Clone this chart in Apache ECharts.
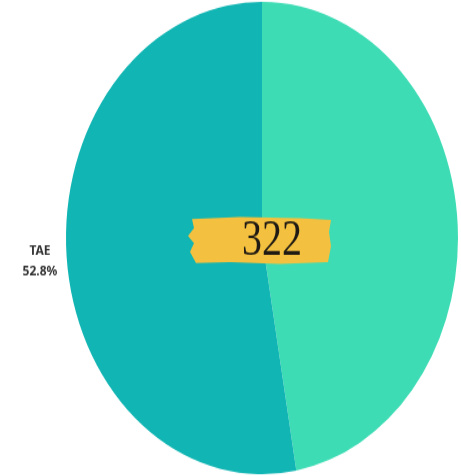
<!DOCTYPE html>
<html>
<head>
<meta charset="utf-8">
<script src="https://cdn.jsdelivr.net/npm/echarts@6/dist/echarts.min.js"></script>
<style>
  html, body { margin: 0; padding: 0; background: #fff; overflow: hidden; }
  #wrap { width: 461px; height: 476px; position: relative; overflow: hidden; }
  /* the pie in the picture is stretched into an ellipse */
  #main { width: 461px; height: 476px; transform-origin: 0 238px; transform: scaleY(1.205); }
</style>
</head>
<body>
<div id="wrap"><div id="main"></div></div>
<script>
const names = ['Other', 'TAE']
const values = [47.2, 52.8]
const colors = ['#3edcb5', '#11b5b3']
const centerNumber = '322'

const k = 1.205
// screen y -> chart y (inverse of the css stretch around y=238)
const cy = y => 238 + (y - 238) / k

const total = values.reduce((a, b) => a + b, 0)
const taePct = (values[1] / total * 100).toFixed(1) + '%'

const chart = echarts.init(document.getElementById('main'))
const option = {
  animation: false,
  color: colors,
  series: [
    {
      type: 'pie',
      center: [262, 238],
      radius: [0, 196],
      startAngle: 90,
      clockwise: true,
      label: { show: false },
      labelLine: { show: false },
      itemStyle: { borderWidth: 0 },
      data: names.map((n, i) => ({ name: n, value: values[i] }))
    }
  ],
  graphic: [
    {
      type: 'polygon',
      z: 100,
      shape: {
        points: [
          [192, cy(219)], [240, cy(217)], [300, cy(218)], [331, cy(220)],
          [329, cy(232)], [331, cy(246)], [328, cy(262)], [280, cy(264)],
          [230, cy(262)], [196, cy(263)], [190, cy(252)], [194, cy(243)],
          [188, cy(236)], [194, cy(228)]
        ]
      },
      style: { fill: '#f3c13f' }
    },
    {
      type: 'text',
      z: 101,
      x: 272,
      y: cy(242),
      scaleX: 0.8,
      scaleY: 1 / k,
      style: {
        text: centerNumber,
        fill: '#1f1a14',
        font: '50px "Liberation Serif", "DejaVu Serif", serif',
        textAlign: 'center',
        textVerticalAlign: 'middle'
      }
    },
    {
      type: 'text',
      z: 101,
      x: 40,
      y: cy(252),
      scaleY: 1 / k,
      style: {
        text: names[1],
        fill: '#333',
        font: 'bold 12px "Noto Sans", sans-serif',
        textAlign: 'center',
        textVerticalAlign: 'middle'
      }
    },
    {
      type: 'text',
      z: 101,
      x: 40,
      y: cy(272),
      scaleY: 1 / k,
      style: {
        text: taePct,
        fill: '#333',
        font: 'bold 12px "Noto Sans", sans-serif',
        textAlign: 'center',
        textVerticalAlign: 'middle'
      }
    }
  ]
}
chart.setOption(option)
</script>
</body>
</html>
